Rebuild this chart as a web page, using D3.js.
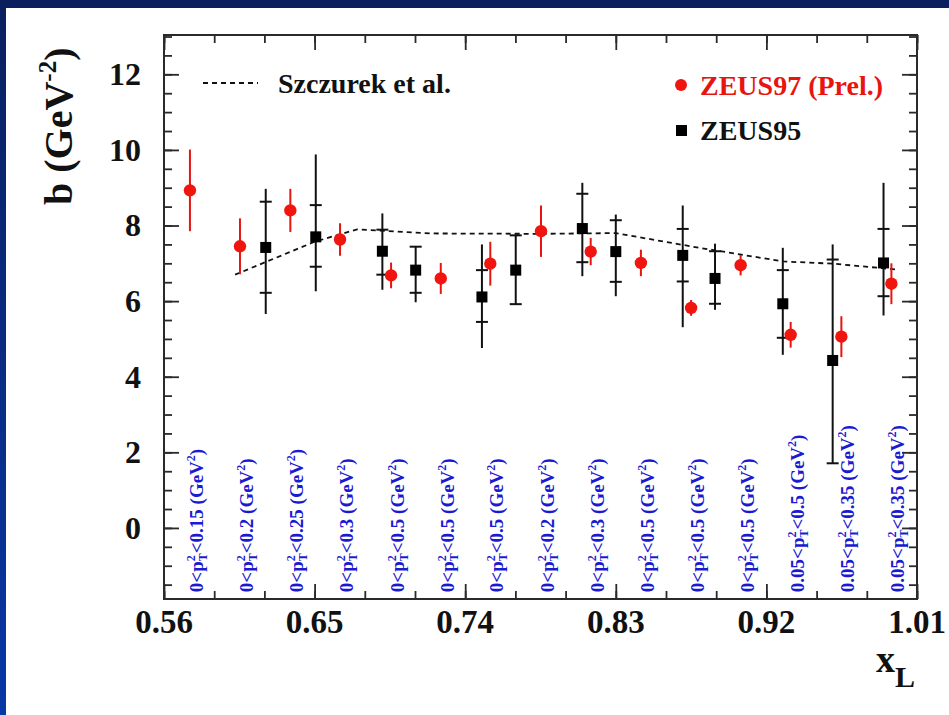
<!DOCTYPE html>
<html>
<head>
<meta charset="utf-8">
<script src="https://cdn.jsdelivr.net/npm/d3@7/dist/d3.min.js"></script>
<style>
  html, body { margin: 0; padding: 0; background: #ffffff; }
  svg { display: block; }
</style>
</head>
<body>
<svg id="chart" width="949" height="715"></svg>
<script>
// ZEUS97 (preliminary) slope b vs x_L
const zeus97X   = [0.5755, 0.6054, 0.6355, 0.6652, 0.6957, 0.7254, 0.7550, 0.7853, 0.8150, 0.8450, 0.8750, 0.9046, 0.9345, 0.9648, 0.9947];
const zeus97B   = [8.93, 7.45, 8.40, 7.63, 6.68, 6.60, 6.99, 7.85, 7.31, 7.01, 5.82, 6.95, 5.11, 5.06, 6.46];
const zeus97Err = [1.08, 0.74, 0.57, 0.43, 0.34, 0.41, 0.58, 0.68, 0.36, 0.35, 0.21, 0.27, 0.34, 0.54, 0.54];

// ZEUS95 slope with statistical (inner) and total (outer) uncertainties
const zeus95X      = [0.6208, 0.6507, 0.6905, 0.7104, 0.7500, 0.7702, 0.8100, 0.8300, 0.8700, 0.8893, 0.9298, 0.9596, 0.9900];
const zeus95B      = [7.42, 7.70, 7.32, 6.82, 6.11, 6.82, 7.92, 7.31, 7.21, 6.60, 5.93, 4.43, 7.01];
const zeus95StatUp = [1.21, 0.84, 0.57, 0.62, 0.71, 0.92, 0.92, 0.83, 0.70, 0.72, 0.89, 2.67, 0.90];
const zeus95StatDn = [1.20, 0.79, 0.62, 0.60, 0.66, 0.90, 0.89, 0.80, 0.69, 0.67, 0.90, 2.72, 0.88];
const zeus95TotUp  = [1.55, 2.18, 1.00, 0.63, 1.39, 0.94, 1.21, 0.98, 1.32, 0.92, 1.48, 3.07, 2.12];
const zeus95TotDn  = [1.76, 1.44, 1.02, 0.85, 1.35, 0.91, 1.26, 1.18, 1.90, 0.83, 1.35, 2.72, 1.39];

// Szczurek et al. prediction
const theoryX = [0.6025, 0.6500, 0.6755, 0.7200, 0.7850, 0.8300, 0.8800, 0.9300, 0.9600, 0.9970];
const theoryB = [6.70, 7.57, 7.90, 7.79, 7.78, 7.80, 7.41, 7.05, 6.99, 6.84];

// p_T^2 ranges of each ZEUS97 bin
const ptLow  = ["0", "0", "0", "0", "0", "0", "0", "0", "0", "0", "0", "0", "0.05", "0.05", "0.05"];
const ptHigh = ["0.15", "0.2", "0.25", "0.3", "0.5", "0.5", "0.5", "0.2", "0.3", "0.5", "0.5", "0.5", "0.5", "0.35", "0.35"];

// axis ticks
const xMajorTicks = [0.56, 0.65, 0.74, 0.83, 0.92, 1.01];
const xTickLabels = ["0.56", "0.65", "0.74", "0.83", "0.92", "1.01"];
const xMinorTicks = d3.range(0, 16).map(i => +(0.56 + 0.03 * i).toFixed(2));
const yMajorTicks = [0, 2, 4, 6, 8, 10, 12];
const yTickLabels = ["0", "2", "4", "6", "8", "10", "12"];
const yMinorTicks = d3.range(-3, 27).map(i => i * 0.5);

const FONT = "'Liberation Serif', 'DejaVu Serif', serif";

const svg = d3.select("#chart")
  .attr("font-family", FONT).attr("font-weight", "bold");
const W = 949, H = 715;

// page frame: dark blue bands on top and left
const defs = svg.append("defs");
const grad = defs.append("linearGradient").attr("id", "sideGrad")
  .attr("x1", 0).attr("y1", 0).attr("x2", 0).attr("y2", 1);
grad.append("stop").attr("offset", "0%").attr("stop-color", "#0b1f5e");
grad.append("stop").attr("offset", "100%").attr("stop-color", "#0838a6");
svg.append("rect").attr("x", 0).attr("y", 0).attr("width", W).attr("height", H).attr("fill", "#ffffff");
svg.append("rect").attr("x", 0).attr("y", 0).attr("width", 6).attr("height", H).attr("fill", "url(#sideGrad)");
svg.append("rect").attr("x", 0).attr("y", 0).attr("width", W).attr("height", 8).attr("fill", "#0b1f5e");

const plotLeft = 164, plotRight = 917, plotTop = 35, plotBottom = 599;
const x = d3.scaleLinear().domain([0.56, 1.01]).range([plotLeft, plotRight]);
const y = d3.scaleLinear().domain([-1.88, 13.04]).range([plotBottom, plotTop]);

const axisColor = "#2a2a2a";
const axes = svg.append("g");

function styleAxis(g) {
  g.select(".domain").remove();
  g.selectAll(".tick line").attr("stroke", axisColor).attr("stroke-width", 1.8);
  g.selectAll(".tick text").remove();
}

// inward ticks on all four sides
axes.append("g").attr("transform", `translate(0,${plotBottom})`)
  .call(d3.axisBottom(x).tickValues(xMinorTicks).tickSize(-8)).call(styleAxis);
axes.append("g").attr("transform", `translate(0,${plotBottom})`)
  .call(d3.axisBottom(x).tickValues(xMajorTicks).tickSize(-15)).call(styleAxis);
axes.append("g").attr("transform", `translate(0,${plotTop})`)
  .call(d3.axisTop(x).tickValues(xMinorTicks).tickSize(-8)).call(styleAxis);
axes.append("g").attr("transform", `translate(0,${plotTop})`)
  .call(d3.axisTop(x).tickValues(xMajorTicks).tickSize(-15)).call(styleAxis);
axes.append("g").attr("transform", `translate(${plotLeft},0)`)
  .call(d3.axisLeft(y).tickValues(yMinorTicks).tickSize(-8)).call(styleAxis);
axes.append("g").attr("transform", `translate(${plotLeft},0)`)
  .call(d3.axisLeft(y).tickValues(yMajorTicks).tickSize(-15)).call(styleAxis);
axes.append("g").attr("transform", `translate(${plotRight},0)`)
  .call(d3.axisRight(y).tickValues(yMinorTicks).tickSize(-8)).call(styleAxis);
axes.append("g").attr("transform", `translate(${plotRight},0)`)
  .call(d3.axisRight(y).tickValues(yMajorTicks).tickSize(-15)).call(styleAxis);

axes.append("rect").attr("x", plotLeft).attr("y", plotTop)
  .attr("width", plotRight - plotLeft).attr("height", plotBottom - plotTop)
  .attr("fill", "none").attr("stroke", axisColor).attr("stroke-width", 2);

// tick labels
svg.append("g").selectAll("text").data(xMajorTicks).join("text")
  .attr("font-family", FONT)
  .attr("x", d => x(d)).attr("y", 633)
  .attr("text-anchor", "middle").attr("font-size", 33).attr("fill", "#111")
  .text((d, i) => xTickLabels[i]);
svg.append("g").selectAll("text").data(yMajorTicks).join("text")
  .attr("font-family", FONT)
  .attr("x", 141).attr("y", d => y(d)).attr("dy", "0.34em")
  .attr("text-anchor", "end").attr("font-size", 32).attr("fill", "#111")
  .text((d, i) => yTickLabels[i]);

// axis titles
const yTitle = svg.append("text").attr("font-family", FONT)
  .attr("transform", "translate(72,205) rotate(-90)")
  .attr("font-size", 40).attr("fill", "#111");
yTitle.append("tspan").text("b (GeV");
yTitle.append("tspan").attr("font-size", 25).attr("dy", -16).text("-2");
yTitle.append("tspan").attr("dy", 16).text(")");

const xTitle = svg.append("text").attr("font-family", FONT).attr("x", 876).attr("y", 672)
  .attr("font-size", 38).attr("fill", "#111");
xTitle.append("tspan").text("x");
xTitle.append("tspan").attr("font-size", 30).attr("dy", 15).text("L");

// theory curve
svg.append("path")
  .datum(d3.zip(theoryX, theoryB))
  .attr("d", d3.line().x(d => x(d[0])).y(d => y(d[1])))
  .attr("fill", "none").attr("stroke", "#111").attr("stroke-width", 1.8)
  .attr("stroke-dasharray", "5,4");

// ZEUS95: error bars with statistical tick marks, then squares
const g95 = svg.append("g");
zeus95X.forEach((xv, i) => {
  const cx = x(xv);
  g95.append("line").attr("x1", cx).attr("x2", cx)
    .attr("y1", y(zeus95B[i] + zeus95TotUp[i])).attr("y2", y(zeus95B[i] - zeus95TotDn[i]))
    .attr("stroke", "#111").attr("stroke-width", 2);
  [zeus95B[i] + zeus95StatUp[i], zeus95B[i] - zeus95StatDn[i]].forEach(v => {
    g95.append("line").attr("x1", cx - 6).attr("x2", cx + 6)
      .attr("y1", y(v)).attr("y2", y(v))
      .attr("stroke", "#111").attr("stroke-width", 2);
  });
  g95.append("rect").attr("x", cx - 5.5).attr("y", y(zeus95B[i]) - 5.5)
    .attr("width", 11).attr("height", 11).attr("fill", "#000");
});

// ZEUS97: error bars and circles
const g97 = svg.append("g");
zeus97X.forEach((xv, i) => {
  const cx = x(xv);
  g97.append("line").attr("x1", cx).attr("x2", cx)
    .attr("y1", y(zeus97B[i] + zeus97Err[i])).attr("y2", y(zeus97B[i] - zeus97Err[i]))
    .attr("stroke", "#e8140f").attr("stroke-width", 2);
  g97.append("circle").attr("cx", cx).attr("cy", y(zeus97B[i])).attr("r", 6.2)
    .attr("fill", "#f0150f");
});

// p_T^2 range labels, written bottom-to-top beside each ZEUS97 bin
const labelY = y(-1.7);
const gLab = svg.append("g");
zeus97X.forEach((xv, i) => {
  const t = gLab.append("text").attr("font-family", FONT)
    .attr("transform", `translate(${x(xv) + 13},${labelY}) rotate(-90)`)
    .attr("font-size", 19).attr("fill", "#1a1ad2");
  t.append("tspan").text(`${ptLow[i]}<p`);
  t.append("tspan").attr("font-size", 12).attr("dy", -8).text("2");
  t.append("tspan").attr("font-size", 12).attr("dx", -6).attr("dy", 12).text("T");
  t.append("tspan").attr("dy", -4).text(`<${ptHigh[i]} (GeV`);
  t.append("tspan").attr("font-size", 12).attr("dy", -8).text("2");
  t.append("tspan").attr("dy", 8).text(")");
});

// legend
const leg = svg.append("g");
leg.append("line").attr("x1", 203).attr("x2", 258).attr("y1", 83).attr("y2", 83)
  .attr("stroke", "#111").attr("stroke-width", 1.8).attr("stroke-dasharray", "5,4");
leg.append("text").attr("font-family", FONT).attr("x", 278).attr("y", 93).attr("font-size", 28).attr("fill", "#111")
  .text("Szczurek et al.");
leg.append("circle").attr("cx", 681).attr("cy", 85).attr("r", 6).attr("fill", "#f0150f");
leg.append("text").attr("font-family", FONT).attr("x", 700).attr("y", 95).attr("font-size", 28).attr("fill", "#e8140f")
  .text("ZEUS97 (Prel.)");
leg.append("rect").attr("x", 676).attr("y", 125).attr("width", 11).attr("height", 11).attr("fill", "#000");
leg.append("text").attr("font-family", FONT).attr("x", 700).attr("y", 140).attr("font-size", 28).attr("fill", "#111")
  .text("ZEUS95");
</script>
</body>
</html>
